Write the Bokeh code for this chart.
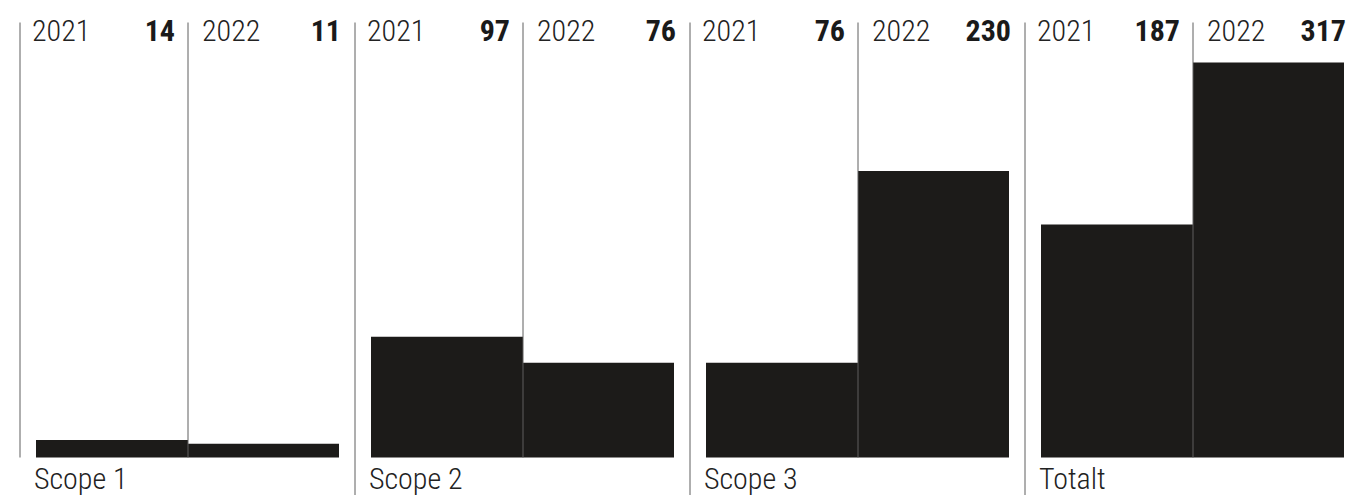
from bokeh.plotting import figure
from bokeh.models import Range1d, ColumnDataSource
from bokeh.core.properties import value
from bokeh.embed import file_html
from bokeh.resources import INLINE

# ---- data ----
groups = ["Scope 1", "Scope 2", "Scope 3", "Totalt"]
years = ["2021", "2022"]
values_2021 = [14, 97, 76, 187]
values_2022 = [11, 76, 230, 317]

# ---- layout (picture pixels) ----
W, H = 1355, 495
FIRST_LINE = 19.5
GROUP_W = 335
SUB_W = 168
BAR_PAD = 16
BAR2_W = 151
BASE_Y = 457     # y of value 0
TOP_Y = 62       # y of the largest value
LINE_TOP = 22
FONT = "'Liberation Sans Narrow', 'Arial Narrow', 'Roboto Condensed', 'Liberation Sans', sans-serif"
FONT_LIGHT = "'Roboto Condensed Light', 'Liberation Sans Narrow', 'Arial Narrow', 'Roboto Condensed', 'Liberation Sans', sans-serif"
INK = "#1c1b19"
LINE_C = "#5f5f5f"

vmax = max(values_2021 + values_2022)
k = (BASE_Y - TOP_Y) / vmax  # px per unit


def yd(py):
    return (BASE_Y - py) / k


p = figure(width=W, height=H, output_backend="svg", toolbar_location=None,
           x_range=Range1d(0, W),
           y_range=Range1d(yd(H), yd(0)),
           min_border=0, outline_line_color=None)
p.axis.visible = False
p.grid.visible = False
p.background_fill_color = "white"
p.border_fill_color = "white"

g0 = [FIRST_LINE + i * GROUP_W for i in range(len(groups))]
div = [g + SUB_W for g in g0]

# bars
bars = ColumnDataSource(dict(
    left=[g + BAR_PAD for g in g0] + div,
    right=div + [d + BAR2_W for d in div],
    top=values_2021 + values_2022,
))
p.quad(left="left", right="right", bottom=0, top="top", source=bars,
       fill_color=INK, line_color=None)

# group lines (first one stops at baseline, the others run to the bottom)
gl_bottom = [yd(BASE_Y)] + [yd(H)] * (len(groups) - 1)
p.segment(x0=g0, x1=g0, y0=[yd(LINE_TOP)] * len(g0), y1=gl_bottom,
          line_color=LINE_C, line_width=1)
# dividers between years
p.segment(x0=div, x1=div, y0=[yd(LINE_TOP)] * len(div), y1=[yd(BASE_Y)] * len(div),
          line_color=LINE_C, line_width=1)

top_text_y = yd(0)
TOP_OFF = 30

# year labels
yl = ColumnDataSource(dict(
    x=[g + 12 for g in g0] + [d + 14 for d in div],
    y=[top_text_y] * (2 * len(groups)),
    t=[years[0]] * len(groups) + [years[1]] * len(groups),
))
p.text(x="x", y="y", text="t", source=yl, text_font=value(FONT_LIGHT),
       text_font_size="30px", text_color="#222222", text_align="left",
       text_baseline="alphabetic", y_offset=TOP_OFF)

# value labels
vl = ColumnDataSource(dict(
    x=[g + 155 for g in g0] + [d + 153 for d in div],
    y=[top_text_y] * (2 * len(groups)),
    t=[str(v) for v in values_2021] + [str(v) for v in values_2022],
))
p.text(x="x", y="y", text="t", source=vl, text_font=value(FONT),
       text_font_size="30px", text_font_style="bold", text_color="#1a1a1a",
       text_align="right", text_baseline="alphabetic", y_offset=TOP_OFF)

# group names
gn = ColumnDataSource(dict(
    x=[g + BAR_PAD - 2 for g in g0],
    y=[yd(H)] * len(groups),
    t=groups,
))
p.text(x="x", y="y", text="t", source=gn, text_font=value(FONT_LIGHT),
       text_font_size="30px", text_color="#222222", text_align="left",
       text_baseline="alphabetic", y_offset=-17)

open("out.html", "w").write(file_html(p, INLINE))
